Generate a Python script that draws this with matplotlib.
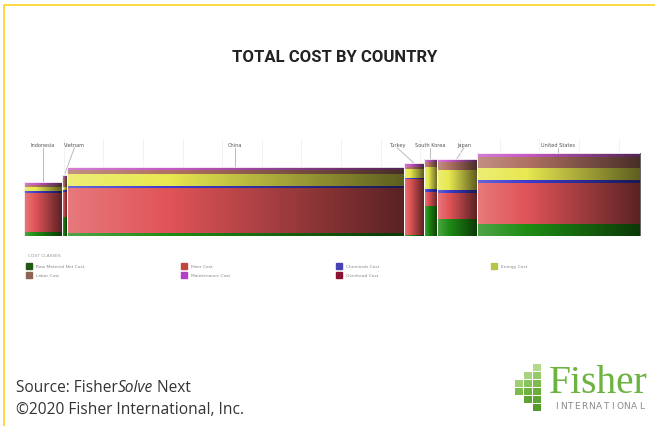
import numpy as np
import matplotlib
matplotlib.use("Agg")
import matplotlib.pyplot as plt
from matplotlib.patches import Rectangle

# Mill capacity per country (bar widths) and cost build-up per tonne (stack heights)
countries = ["Indonesia", "Vietnam", "China", "Turkey", "South Korea", "Japan", "United States"]
capacity = [11.5, 1.5, 102.0, 6.0, 4.0, 12.0, 49.5]

cost_classes = ["Raw Material Net Cost", "Fiber Cost", "Chemicals Cost",
                "Energy Cost", "Labor Cost", "Maintenance Cost"]
raw_material = [20, 95, 15, 5, 150, 85, 60]
fiber = [195, 125, 225, 280, 70, 130, 205]
chemicals = [8, 10, 8, 5, 15, 15, 15]
energy = [20, 15, 60, 45, 110, 100, 60]
labor = [10, 45, 20, 10, 25, 40, 55]
maintenance = [15, 15, 15, 20, 15, 15, 20]

# legend order as shown in the key (column-major, two rows)
legend_names = ["Raw Material Net Cost", "Labor Cost", "Fiber Cost", "Maintenance Cost",
                "Chemicals Cost", "Overhead Cost", "Energy Cost"]

colors = {
    "Raw Material Net Cost": "#1e8c14",
    "Fiber Cost": "#e05458",
    "Chemicals Cost": "#3c3cd0",
    "Energy Cost": "#e8e850",
    "Labor Cost": "#b07262",
    "Maintenance Cost": "#c65ac6",
    "Overhead Cost": "#8c1232",
}
legend_colors = {
    "Raw Material Net Cost": "#1f5a12",
    "Labor Cost": "#8c6452",
    "Fiber Cost": "#c4443e",
    "Maintenance Cost": "#b040c4",
    "Chemicals Cost": "#4642b4",
    "Overhead Cost": "#8c1232",
    "Energy Cost": "#b8c448",
}

stacks = [raw_material, fiber, chemicals, energy, labor, maintenance]

W, H = 655, 427
fig = plt.figure(figsize=(W / 100, H / 100), dpi=100)
fig.patch.set_facecolor("white")

# yellow frame along top and left edge
frame = fig.add_axes([0, 0, 1, 1], zorder=-5)
frame.set_xlim(0, W)
frame.set_ylim(H, 0)
frame.axis("off")
frame.plot([4, 4, W], [H, 6, 6], color="#ffd21f", lw=1.2)

fig.text(335 / W, 1 - 57 / H, "TOTAL COST BY COUNTRY", ha="center", va="center",
         fontsize=12, fontweight="bold", family="Roboto", color="#222222")

ax = fig.add_axes([24 / W, 1 - 237 / H, 616 / W, 97 / H])
ax.set_facecolor("white")
for s in ax.spines.values():
    s.set_visible(False)

lefts = np.concatenate([[0], np.cumsum(capacity)[:-1]])
totals = np.sum(stacks, axis=0)

# horizontal shading: lighter on the left, darker on the right
n = 256
t = np.linspace(0, 1, n)
shade = np.zeros((1, n, 4))
shade[0, :, :3] = np.where(t[:, None] < 0.3, 1.0, 0.0)
shade[0, :, 3] = np.where(t < 0.3, 0.22 * (1 - t / 0.3), 0.6 * (t - 0.3) / 0.7)

for i, c in enumerate(countries):
    bottom = 0
    for name, vals in zip(cost_classes, stacks):
        ax.bar(lefts[i], vals[i], width=capacity[i], bottom=bottom, align="edge",
               color=colors[name], linewidth=0, zorder=2)
        bottom += vals[i]
    ax.imshow(shade, extent=[lefts[i], lefts[i] + capacity[i], 0, totals[i]],
              aspect="auto", interpolation="bilinear", zorder=3)
    ax.add_patch(Rectangle((lefts[i], 0), capacity[i], totals[i], fill=False,
                           edgecolor="white", lw=0.6, zorder=4))

# country labels with leader lines to the bar tops
label_nudge = [0, 3, 0, -5, 0, 2.2, 0]
label_y = 455
for i, c in enumerate(countries):
    cx = lefts[i] + capacity[i] / 2
    lx = cx + label_nudge[i]
    ax.text(lx, label_y, c, ha="center", va="center", fontsize=3.6, color="#555555")
    ax.plot([lx, cx], [label_y - 14, totals[i]], color="#b0b0b0", lw=0.6, zorder=1)

ax.set_xlim(0, sum(capacity))
ax.set_ylim(0, 485)
ax.set_xticks(np.arange(12, sum(capacity), 12))
ax.set_yticks([])
ax.tick_params(length=0, labelbottom=False)
ax.grid(axis="x", color="#f0f0f0", lw=0.6, zorder=0)

# cost class key
fig.text(28 / W, 1 - 256 / H, "COST CLASSES", fontsize=3.2, color="#999999", va="center")
for k, name in enumerate(legend_names):
    col, row = k // 2, k % 2
    x0 = 26 + col * 155
    y0 = 267 + row * 9
    frame.add_patch(Rectangle((x0, y0 - 3), 6, 6, color=legend_colors[name]))
    frame.text(x0 + 10, y0, name, fontsize=3.2, color="#888888", va="center")

# source line with the italic product name
renderer = fig.canvas.get_renderer()
x_px = 16
for part, style in [("Source: Fisher", "normal"), ("Solve", "italic"), (" Next", "normal")]:
    t_ = frame.text(x_px, 388, part, fontsize=11.2, family="Open Sans", style=style,
                    color="#333333", va="center")
    bb = t_.get_window_extent(renderer=renderer)
    x_px = bb.x1
frame.text(16, 410, "\u00a92020 Fisher International, Inc.", fontsize=11.2,
           family="Open Sans", color="#333333", va="center")

# company mark: stepped block of squares plus wordmark
logo_cols = [
    (515, [380.5, 388.5], ["#9fcf72", "#7cbb4c"]),
    (524, [373, 381, 389, 397], ["#a8d37e", "#88c25a", "#6fb040", "#5da232"]),
    (533, [365, 373, 381, 389, 397, 405], ["#b2d98a", "#96c968", "#7cbb4c",
                                          "#6aae3a", "#5ea434", "#549a2c"]),
]
for x0, ys, cols in logo_cols:
    for y0, col in zip(ys, cols):
        frame.add_patch(Rectangle((x0, y0), 8, 7.2, color=col, lw=0))
frame.text(549, 393, "Fisher", fontsize=28.5, family="Liberation Serif",
           color="#6db33f", va="baseline")
for k, ch in enumerate("INTERNATIONAL"):
    frame.text(556 + k * 7.1, 406.5, ch, fontsize=6.5, family="DejaVu Sans",
               color="#8a8a8a", va="center", ha="center")

fig.savefig("out.png", dpi=100)
